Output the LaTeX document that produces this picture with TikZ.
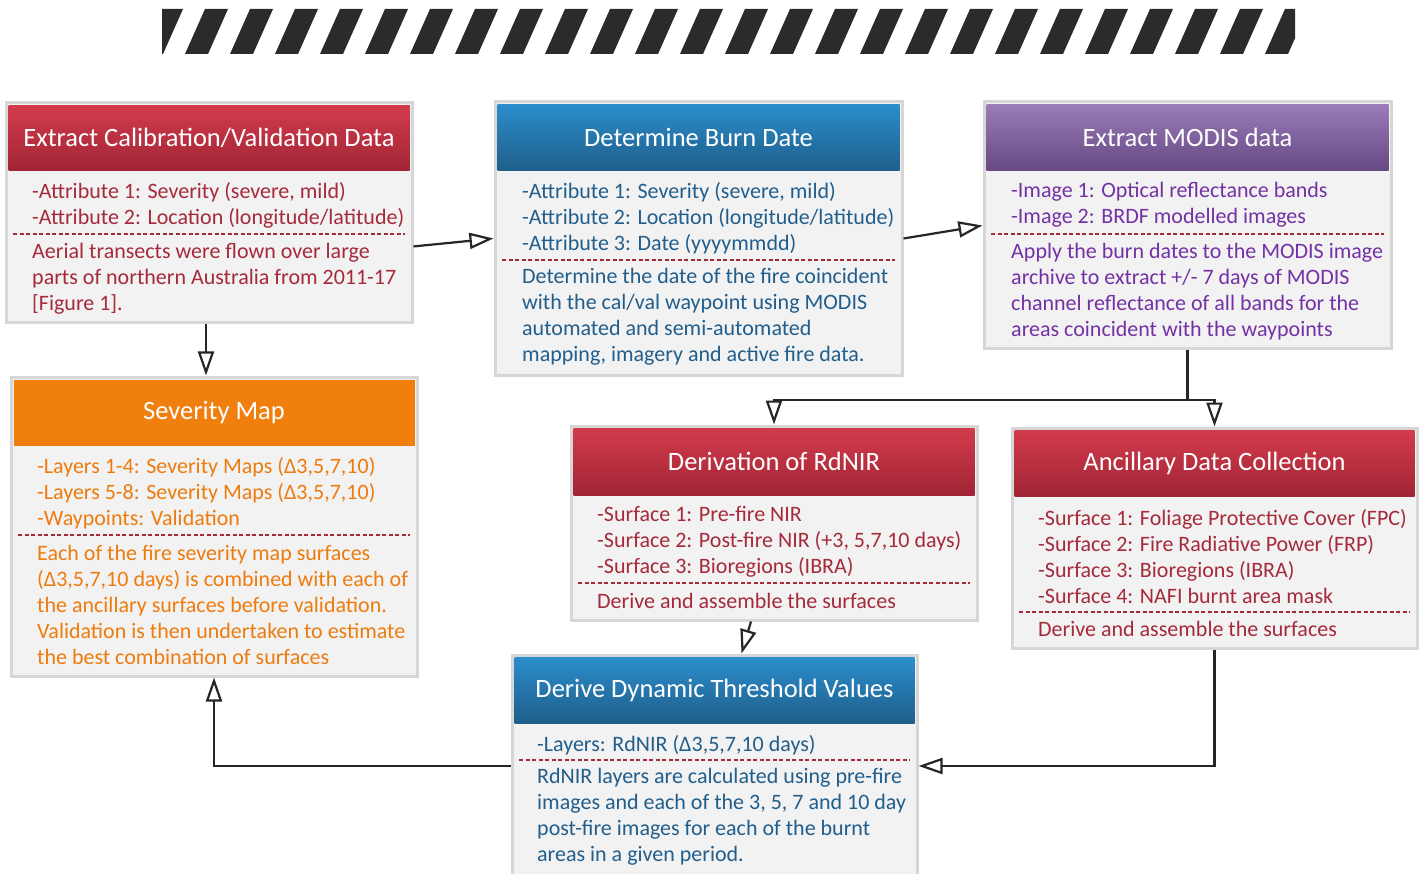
\documentclass[tikz,border=0pt]{standalone}
\usepackage{fontspec}
\setmainfont{Carlito}
\usetikzlibrary{arrows.meta,fit,calc}
\definecolor{redtop}{HTML}{D23B4C}
\definecolor{redbot}{HTML}{A12535}
\definecolor{bluetop}{HTML}{2B8DCB}
\definecolor{bluebot}{HTML}{1F5E8A}
\definecolor{purptop}{HTML}{9A7DB8}
\definecolor{purpbot}{HTML}{654782}
\definecolor{orangehd}{HTML}{F07F0E}
\definecolor{redtxt}{HTML}{A52A3A}
\definecolor{bluetxt}{HTML}{215E8C}
\definecolor{purptxt}{HTML}{7431A6}
\definecolor{orangetxt}{HTML}{EE7B0D}
\definecolor{bodybg}{HTML}{F2F2F2}
\definecolor{edgegray}{HTML}{D6D6D6}
\definecolor{stripe}{HTML}{2B2B2B}
\tikzset{
  x=1pt, y=-1pt,
  outerbox/.style={draw=edgegray, fill=bodybg, line width=3pt, inner sep=0pt},
  hdred/.style={top color=redtop, bottom color=redbot},
  hdblue/.style={top color=bluetop, bottom color=bluebot},
  hdpurp/.style={top color=purptop, bottom color=purpbot},
  hdorange/.style={fill=orangehd},
  titletext/.style={text=white, font=\fontsize{26.5}{30}\selectfont, inner sep=0pt},
  bodytext/.style={font=\fontsize{22}{26}\selectfont, align=left, inner sep=0pt, anchor=west},
  dashline/.style={draw=redtxt, line width=1.5pt, dash pattern=on 4pt off 2.5pt},
  arr/.style={draw=black!85, line width=2.2pt, -{Triangle[length=24pt,width=16pt,fill=white]}},
}
\newcommand\flowbox[9]{%
  \node[outerbox, fit={(#2,#3)(#4,#5)}] (#1) {};
  \path[#7] ({#2+2.5},{#3+2.5}) rectangle ({#4-2.5},#6);
  \node[titletext] (#1t) at ({(#2+#4)/2},{(#3+#6)/2+1}) {#8};
  \draw[dashline] ({#2+7},#9) -- ({#4-7},#9);
}
\begin{document}
\begin{tikzpicture}
\clip (0,0) rectangle (1421,874);
\fill[white] (0,0) rectangle (1421,874);
% striped banner
\begin{scope}
  \clip (162,9) rectangle (1295,54);
  \foreach \k in {0,...,26}
    \fill[stripe] ({140+45*\k},54) -- ++(23,0) -- ++(20,-45) -- ++(-23,0) -- cycle;
\end{scope}

% Box 1
\flowbox{b1}{6}{103}{412}{323}{171}{hdred}{Extract Calibration/Validation Data}{234}
\node[bodytext, text=redtxt] (a1) at (32,205.5) {-Attribute 1: Severity (severe, mild)\\-Attribute 2: Location (longitude/latitude)};
\node[bodytext, text=redtxt] (d1) at (32,278.5) {Aerial transects were flown over large\\parts of northern Australia from 2011-17\\{}[Figure 1].};

% Box 2
\flowbox{b2}{495}{102}{902}{375}{171}{hdblue}{Determine Burn Date}{260}
\node[bodytext, text=bluetxt] (a2) at (522,218) {-Attribute 1: Severity (severe, mild)\\-Attribute 2: Location (longitude/latitude)\\-Attribute 3: Date (yyyymmdd)};
\node[bodytext, text=bluetxt] (d2) at (522,317) {Determine the date of the fire coincident\\with the cal/val waypoint using MODIS\\automated and semi-automated\\mapping, imagery and active fire data.};

% Box 3
\flowbox{b3}{984}{102}{1391}{349}{171}{hdpurp}{Extract MODIS data}{234}
\node[bodytext, text=purptxt] (a3) at (1011,205) {-Image 1: Optical reflectance bands\\-Image 2: BRDF modelled images};
\node[bodytext, text=purptxt] (d3) at (1011,291.5) {Apply the burn dates to the MODIS image\\archive to extract +/- 7 days of MODIS\\channel reflectance of all bands for the\\areas coincident with the waypoints};

% Box 4
\flowbox{b4}{571}{426}{977}{620}{495}{hdred}{Derivation of RdNIR}{583}
\node[bodytext, text=redtxt] (a4) at (597,542) {-Surface 1: Pre-fire NIR\\-Surface 2: Post-fire NIR (+3, 5,7,10 days)\\-Surface 3: Bioregions (IBRA)};
\node[bodytext, text=redtxt] (d4) at (597,601) {Derive and assemble the surfaces};

% Box 5
\flowbox{b5}{1012}{428}{1417}{648}{496}{hdred}{Ancillary Data Collection}{612}
\node[bodytext, text=redtxt] (a5) at (1038,557) {-Surface 1: Foliage Protective Cover (FPC)\\-Surface 2: Fire Radiative Power (FRP)\\-Surface 3: Bioregions (IBRA)\\-Surface 4: NAFI burnt area mask};
\node[bodytext, text=redtxt] (d5) at (1038,629) {Derive and assemble the surfaces};

% Box 6
\flowbox{b6}{512}{655}{917}{877}{723}{hdblue}{Derive Dynamic Threshold Values}{760}
\node[bodytext, text=bluetxt] (a6) at (537,745) {-Layers: RdNIR (Δ3,5,7,10 days)};
\node[bodytext, text=bluetxt] (d6) at (537,817) {RdNIR layers are calculated using pre-fire\\images and each of the 3, 5, 7 and 10 day\\post-fire images for each of the burnt\\areas in a given period.};

% Box 7
\flowbox{b7}{11}{377}{417}{676}{446}{hdorange}{Severity Map}{535}
\node[bodytext, text=orangetxt] (a7) at (37,493) {-Layers 1-4: Severity Maps (Δ3,5,7,10)\\-Layers 5-8: Severity Maps (Δ3,5,7,10)\\-Waypoints: Validation};
\node[bodytext, text=orangetxt] (d7) at (37,604.5) {Each of the fire severity map surfaces\\(Δ3,5,7,10 days) is combined with each of\\the ancillary surfaces before validation.\\Validation is then undertaken to estimate\\the best combination of surfaces};

% connectors
\coordinate (split) at (b3.south |- 0,400);
\coordinate (c1) at ($(b1.south)+(-3,0)$);
\coordinate (c4) at ($(b4.south)+(-23,0)$);
\coordinate (c6) at ($(b6.north)+(27,0)$);
\coordinate (c12) at ($(b1.north east)!0.65!(b1.south east)$);
\draw[arr] (c12) -- (b2.west);
\draw[arr] (b2.east) -- (b3.west);
\draw[arr] (c1) -- (c1 |- b7.north);
\draw[arr] (b3.south) -- (split) -| (b4.north);
\draw[arr] (split) -| (b5.north);
\draw[arr] (c4) -- (c6);
\draw[arr] (b5.south) |- (b6.east);
\draw[arr] (b6.west) -| (b7.south);
\end{tikzpicture}
\end{document}
